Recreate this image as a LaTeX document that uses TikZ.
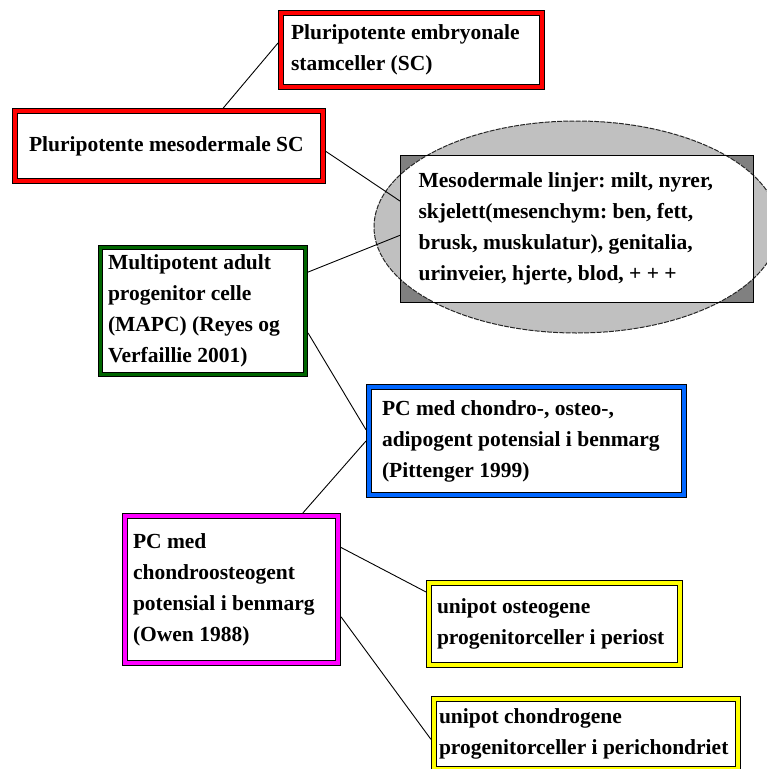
\documentclass[tikz,border=0pt]{standalone}
\usepackage{fontspec}
\setmainfont{Liberation Serif}
\usepackage{tikz}
\usetikzlibrary{backgrounds}
\definecolor{frameRed}{RGB}{255,0,0}
\definecolor{frameGreen}{RGB}{0,102,0}
\definecolor{frameBlue}{RGB}{0,102,255}
\definecolor{frameMagenta}{RGB}{255,0,255}
\definecolor{frameYellow}{RGB}{255,255,0}
\definecolor{ovalGray}{RGB}{192,192,192}
\definecolor{cornerGray}{RGB}{128,128,128}
\frenchspacing

\begin{document}
\begin{tikzpicture}[x=1pt, y=-1pt,
  cell/.style={rectangle, draw=black, line width=1pt, double=#1, double distance=4pt,
               outer sep=3pt, anchor=north west, align=flush left, inner xsep=8pt, inner ysep=0pt,
               font=\fontsize{21.5}{31}\selectfont\bfseries},
  lineage/.style={rectangle, draw=black, line width=1.2pt, anchor=north west,
                  align=flush left, inner xsep=18pt, inner ysep=0pt,
                  font=\fontsize{21.5}{31}\selectfont\bfseries},
  oval/.style={draw=black!85, line width=1pt, dash pattern=on 5pt off 1.2pt},
  link/.style={draw=black, line width=0.9pt}]

  \useasboundingbox (0,0) rectangle (767,769);

  % ---- Stem cell boxes ----
  \node[cell=frameRed, inner xsep=10pt, text width=241pt, minimum height=74pt] (embryo) at (278,10)
       {Pluripotente embryonale\\stamceller (SC)};
  \node[cell=frameRed, inner xsep=14pt, text width=280pt, minimum height=70pt] (mesc) at (12,108)
       {Pluripotente mesodermale SC};
  \node[cell=frameGreen, double distance=3pt, text width=189pt, minimum height=127pt] (mapc) at (97,244)
       {Multipotent adult\\progenitor celle\\(MAPC) (Reyes og\\Verfaillie 2001)};
  \node[cell=frameBlue, inner xsep=13pt, text width=289pt, minimum height=108pt] (pcadipo) at (366,384)
       {PC med chondro-, osteo-,\\adipogent potensial i benmarg\\(Pittenger 1999)};
  \node[cell=frameMagenta, text width=197pt, minimum height=147pt] (pcchondro) at (122,513)
       {PC med\\chondroosteogent\\potensial i benmarg\\(Owen 1988)};
  \node[cell=frameYellow, text width=235pt, minimum height=82pt] (osteo) at (426,580)
       {unipot osteogene\\progenitorceller i periost};
  \node[cell=frameYellow, inner xsep=5pt, text width=294pt, minimum height=70pt] (chondro) at (431,696)
       {unipot chondrogene\\progenitorceller i perichondriet};

  % ---- Mesodermal lineages ----
  \node[lineage, minimum height=147pt, text width=317pt] (meso) at (400,155)
       {Mesodermale linjer: milt, nyrer,\\skjelett(mesenchym: ben, fett,\\brusk, muskulatur), genitalia,\\urinveier, hjerte, blod, + + +};

  \begin{scope}[on background layer]
    \fill[cornerGray] (meso.north west) rectangle (meso.south east);
    \fill[ovalGray] (576.5,227) ellipse [x radius=202.5, y radius=106];
    \begin{scope}
      \clip (576.5,227) ellipse [x radius=202.5, y radius=106];
      \fill[white] (meso.north west) rectangle (meso.south east);
    \end{scope}
    \draw[oval] (576.5,227) ellipse [x radius=202.5, y radius=106];
  \end{scope}

  % ---- Links ----
  \draw[link] (mesc.35) -- (embryo.177);
  \draw[link] (mesc.358) -- (meso.171);
  \draw[link] (mapc.20) -- (meso.182);
  \draw[link] (mapc.-12) -- (pcadipo.176);
  \draw[link] (pcadipo.180) -- (pcchondro.47);
  \draw[link] (pcchondro.21) -- (osteo.166);
  \draw[link] (pcchondro.-14) -- (chondro.182);

\end{tikzpicture}
\end{document}
